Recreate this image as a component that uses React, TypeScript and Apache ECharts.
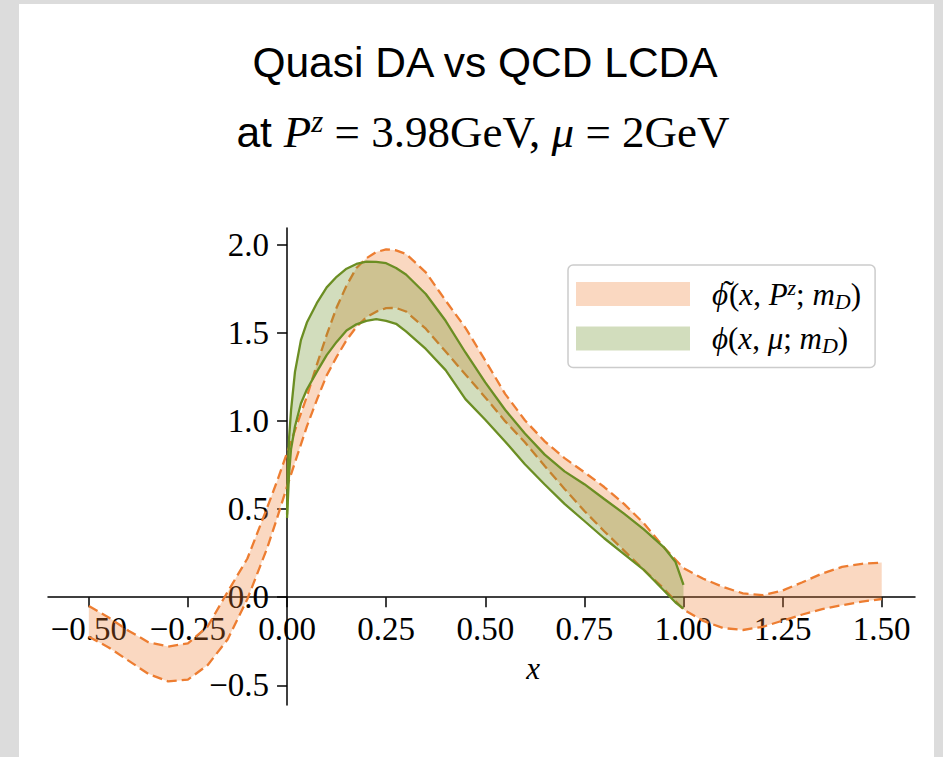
import React, { useEffect, useRef } from 'react';
import * as echarts from 'echarts';

// ---- data ----
const xTicks = [-0.5, -0.25, 0, 0.25, 0.5, 0.75, 1, 1.25, 1.5];
const yTicks = [-0.5, 0, 0.5, 1, 1.5, 2];

// quasi DA band  (orange, dashed edges)
const quasiX = [-0.5, -0.45, -0.4, -0.35, -0.3, -0.25, -0.2, -0.15, -0.1, -0.05, -0.025, 0, 0.025, 0.05, 0.075, 0.1, 0.125, 0.15, 0.175, 0.2, 0.225, 0.25, 0.275, 0.3, 0.35, 0.4, 0.45, 0.5, 0.55, 0.6, 0.65, 0.7, 0.75, 0.8, 0.85, 0.9, 0.95, 1.0, 1.05, 1.1, 1.15, 1.2, 1.25, 1.3, 1.35, 1.4, 1.45, 1.5];
const quasiUpper = [-0.05, -0.115, -0.19, -0.255, -0.28, -0.262, -0.165, 0.03, 0.22, 0.51, 0.66, 0.82, 0.98, 1.14, 1.32, 1.49, 1.645, 1.77, 1.87, 1.925, 1.96, 1.976, 1.97, 1.95, 1.845, 1.685, 1.53, 1.345, 1.155, 1.005, 0.885, 0.79, 0.71, 0.626, 0.53, 0.42, 0.285, 0.165, 0.105, 0.058, 0.022, 0.012, 0.038, 0.085, 0.135, 0.172, 0.19, 0.197];
const quasiLower = [-0.224, -0.285, -0.36, -0.435, -0.478, -0.468, -0.385, -0.24, -0.01, 0.28, 0.45, 0.63, 0.8, 0.97, 1.12, 1.26, 1.365, 1.46, 1.535, 1.59, 1.622, 1.642, 1.643, 1.623, 1.525, 1.395, 1.265, 1.135, 1.0, 0.88, 0.745, 0.615, 0.49, 0.375, 0.265, 0.155, 0.05, -0.07, -0.135, -0.175, -0.186, -0.168, -0.133, -0.098, -0.068, -0.045, -0.025, -0.01];

// QCD LCDA band  (green, solid edges)
const lcdaX = [0, 0.002, 0.005, 0.01, 0.02, 0.035, 0.05, 0.075, 0.1, 0.125, 0.15, 0.175, 0.2, 0.225, 0.25, 0.275, 0.3, 0.35, 0.4, 0.45, 0.5, 0.55, 0.6, 0.65, 0.7, 0.75, 0.8, 0.85, 0.9, 0.95, 0.98, 1.0];
const lcdaUpper = [0.47, 0.72, 0.9, 1.06, 1.28, 1.46, 1.56, 1.67, 1.76, 1.82, 1.866, 1.893, 1.906, 1.905, 1.897, 1.87, 1.833, 1.722, 1.57, 1.39, 1.22, 1.065, 0.93, 0.81, 0.715, 0.642, 0.558, 0.475, 0.385, 0.285, 0.2, 0.07];
const lcdaLower = [0.45, 0.55, 0.7, 0.84, 0.97, 1.1, 1.18, 1.28, 1.375, 1.45, 1.515, 1.55, 1.57, 1.579, 1.57, 1.553, 1.51, 1.41, 1.29, 1.125, 1.008, 0.885, 0.755, 0.64, 0.53, 0.433, 0.335, 0.245, 0.155, 0.04, -0.03, -0.065];

const ORANGE = '#ED7D31';
const GREEN = '#6B8E23';
const ORANGE_FILL = 'rgba(237,125,49,0.3)';
const GREEN_FILL = 'rgba(107,142,35,0.3)';
const SERIF = '"Liberation Serif", "DejaVu Serif", serif';
const SANS = '"Liberation Sans", Arial, sans-serif';

const W = 943;
const H = 757;
const GRID = { left: 48, right: 28, top: 228, bottom: 52 };
const X_MIN = -0.603;
const X_MAX = 1.584;
const Y_MIN = -0.612;
const Y_MAX = 2.097;

const pairs = (xs: number[], ys: number[]) => xs.map((x, i) => [x, ys[i]]);
const triples = (xs: number[], lo: number[], up: number[]) => xs.map((x, i) => [x, lo[i], up[i]]);
const minus = (s: string) => s.replace('-', '\u2212');

function bandRenderer(xs: number[], lo: number[], up: number[], fill: string) {
  return (params: any, api: any) => {
    if (params.dataIndex !== 0) return { type: 'group', children: [] };
    const top = xs.map((x, i) => api.coord([x, up[i]]));
    const bottom = xs.map((x, i) => api.coord([x, lo[i]])).reverse();
    return {
      type: 'polygon',
      shape: { points: top.concat(bottom) },
      style: { fill, stroke: 'none' },
    };
  };
}

export default function App() {
  const ref = useRef<HTMLDivElement>(null);
  useEffect(() => {
    if (!ref.current) return;
    const chart = echarts.init(ref.current, null, { renderer: 'svg' });
    const gridW = W - GRID.left - GRID.right;
    const gridH = H - GRID.top - GRID.bottom;
    const yAxisOffset = -gridW * (0 - X_MIN) / (X_MAX - X_MIN);
    const xAxisOffset = -gridH * (0 - Y_MIN) / (Y_MAX - Y_MIN);
    const line: any = { type: 'line', showSymbol: false, symbol: 'none', smooth: false, silent: true };
    const dashed = { color: ORANGE, width: 2.3, type: [10, 5] };
    const solid = { color: GREEN, width: 2.3 };
    chart.setOption({
      animation: false,
      backgroundColor: '#dcdcdc',
      title: [
        {
          text: 'Quasi DA vs QCD LCDA',
          left: 485, top: 41, textAlign: 'center', padding: 0,
          textStyle: { fontFamily: SANS, fontSize: 42.5, fontWeight: 'normal', color: '#000' },
        },
        {
          text: '{s|at }{i|P}{sup|z}{n| = 3.98GeV, }{i|\u03bc}{n| = 2GeV}',
          left: 483, top: 106, textAlign: 'center', padding: 0,
          textStyle: {
            color: '#000', fontWeight: 'normal',
            rich: {
              s: { fontFamily: SANS, fontSize: 42.5, fontWeight: 'normal', lineHeight: 52, color: '#000' },
              i: { fontFamily: SERIF, fontStyle: 'italic', fontWeight: 'normal', fontSize: 45, lineHeight: 52, color: '#000' },
              n: { fontFamily: SERIF, fontWeight: 'normal', fontSize: 45, lineHeight: 52, color: '#000' },
              sup: { fontFamily: SERIF, fontStyle: 'italic', fontWeight: 'normal', fontSize: 31, lineHeight: 30, verticalAlign: 'top', color: '#000' },
            },
          },
        },
      ],
      graphic: [
        { type: 'rect', shape: { x: 19, y: 4, width: 915, height: 753 }, style: { fill: '#fff' }, z: -10, silent: true },
        { type: 'text', x: 533, y: 668, style: { text: 'x', font: `italic 31px ${SERIF}`, fill: '#000', align: 'center', verticalAlign: 'middle' }, silent: true },
      ],
      legend: {
        left: 568, top: 265, orient: 'vertical',
        padding: [11, 14, 11, 8], itemGap: 11, itemWidth: 114, itemHeight: 24,
        icon: 'rect', selectedMode: false,
        borderColor: '#cccccc', borderWidth: 1.5, borderRadius: 5, backgroundColor: '#fff',
        itemStyle: { borderWidth: 0 },
        data: [
          { name: 'quasi', itemStyle: { color: ORANGE_FILL, borderWidth: 0 } },
          { name: 'lcda', itemStyle: { color: GREEN_FILL, borderWidth: 0 } },
        ],
        formatter: (name: string) =>
          name === 'quasi'
            ? '{i|\u03d5}{t|\u02dc}{n|(}{i|x}{n|, }{i|P}{sup|z}{n|; }{i|m}{sub|D}{n|)}'
            : '{i|\u03d5}{n|(}{i|x}{n|, }{i|\u03bc}{n|; }{i|m}{sub|D}{n|)}',
        textStyle: {
          padding: [0, 0, 0, 17],
          rich: {
            i: { fontFamily: SERIF, fontStyle: 'italic', fontSize: 31, lineHeight: 36, color: '#000' },
            n: { fontFamily: SERIF, fontSize: 31, lineHeight: 36, color: '#000' },
            t: { fontFamily: SERIF, fontSize: 33, lineHeight: 20, width: 1, align: 'right', verticalAlign: 'top', color: '#000' },
            sup: { fontFamily: SERIF, fontStyle: 'italic', fontSize: 22, lineHeight: 20, verticalAlign: 'top', color: '#000' },
            sub: { fontFamily: SERIF, fontStyle: 'italic', fontSize: 22, lineHeight: 26, verticalAlign: 'bottom', color: '#000' },
          },
        },
      },
      grid: { ...GRID, containLabel: false, outerBoundsMode: 'none' },
      xAxis: {
        type: 'value', min: X_MIN, max: X_MAX, position: 'bottom', offset: xAxisOffset,
        axisLine: { onZero: false, lineStyle: { color: '#000', width: 1.5 } },
        axisTick: { show: true, length: 10, lineStyle: { color: '#000', width: 1.5 }, customValues: xTicks },
        axisLabel: {
          customValues: xTicks, margin: 15, color: '#000', fontFamily: SERIF, fontSize: 33,
          formatter: (v: number) => minus(v.toFixed(2)),
        },
        splitLine: { show: false },
      },
      yAxis: {
        type: 'value', min: Y_MIN, max: Y_MAX, position: 'left', offset: yAxisOffset,
        axisLine: { show: true, onZero: false, lineStyle: { color: '#000', width: 1.5 } },
        axisTick: { show: true, length: 10, lineStyle: { color: '#000', width: 1.5 }, customValues: yTicks },
        axisLabel: {
          customValues: yTicks, margin: 18, color: '#000', fontFamily: SERIF, fontSize: 33,
          formatter: (v: number) => minus(v.toFixed(1)),
        },
        splitLine: { show: false },
      },
      series: [
        {
          type: 'custom', name: 'quasi', data: triples(quasiX, quasiLower, quasiUpper),
          encode: { x: 0, y: [1, 2] }, itemStyle: { color: ORANGE_FILL },
          renderItem: bandRenderer(quasiX, quasiLower, quasiUpper, ORANGE_FILL), silent: true, z: 2,
        },
        { ...line, name: 'quasiUpperEdge', data: pairs(quasiX, quasiUpper), lineStyle: dashed, z: 3 },
        { ...line, name: 'quasiLowerEdge', data: pairs(quasiX, quasiLower), lineStyle: dashed, z: 3 },
        {
          type: 'custom', name: 'lcda', data: triples(lcdaX, lcdaLower, lcdaUpper),
          encode: { x: 0, y: [1, 2] }, itemStyle: { color: GREEN_FILL },
          renderItem: bandRenderer(lcdaX, lcdaLower, lcdaUpper, GREEN_FILL), silent: true, z: 4,
        },
        { ...line, name: 'lcdaUpperEdge', data: pairs(lcdaX, lcdaUpper), lineStyle: solid, z: 5 },
        { ...line, name: 'lcdaLowerEdge', data: pairs(lcdaX, lcdaLower), lineStyle: solid, z: 5 },
      ],
    });
    return () => chart.dispose();
  }, []);
  return <div ref={ref} style={{ position: 'absolute', left: 0, top: 0, width: W, height: H }} />;
}
